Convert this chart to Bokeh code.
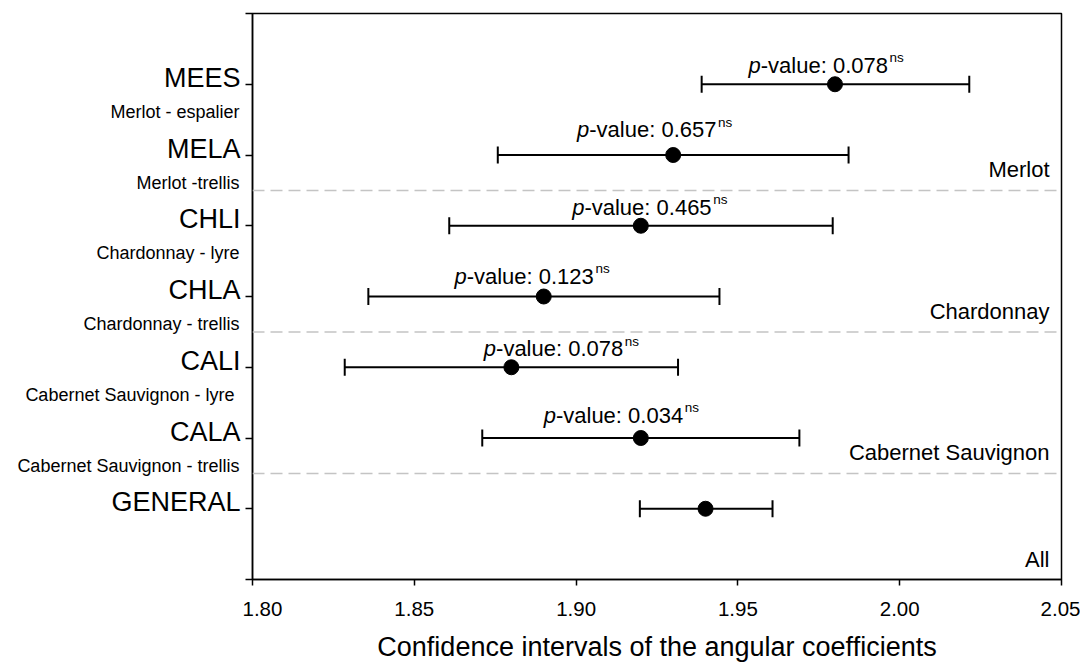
import numpy as np
from bokeh.plotting import figure
from bokeh.layouts import row
from bokeh.models import (ColumnDataSource, LabelSet, Span, FixedTicker,
                          NumeralTickFormatter, Range1d)
from bokeh.core.properties import value
from bokeh.embed import file_html
from bokeh.resources import INLINE

# ---------------- data ----------------
codes = ["MEES", "MELA", "CHLI", "CHLA", "CALI", "CALA", "GENERAL"]
descriptions = ["Merlot - espalier", "Merlot -trellis", "Chardonnay - lyre",
                "Chardonnay - trellis", "Cabernet Sauvignon -  lyre",
                "Cabernet Sauvignon - trellis", ""]
estimate = [1.980, 1.930, 1.920, 1.890, 1.880, 1.920, 1.940]
lower = [1.9388, 1.8758, 1.8608, 1.8358, 1.8285, 1.8710, 1.9197]
upper = [2.0215, 1.9842, 1.9793, 1.9443, 1.9315, 1.9690, 1.9607]
p_values = ["0.078", "0.657", "0.465", "0.123", "0.078", "0.034"]
# where each p-value annotation starts / sits (data units)
pval_text_x = [1.9533, 1.9003, 1.8988, 1.8624, 1.8715, 1.8900]
pval_text_y = [7.16, 6.25, 5.156, 4.18, 3.156, 2.21]
groups = ["Merlot", "Chardonnay", "Cabernet Sauvignon", "All"]
group_bottom = [5.5, 3.5, 1.5, 0.0]
x_ticks = [1.80, 1.85, 1.90, 1.95, 2.00, 2.05]
x_title = "Confidence intervals of the angular coefficients"

n = len(codes)
ypos = [n - i for i in range(n)]

FONT = value("Liberation Sans")
H = 664
TOP = 13
BOTTOM = 85

y_range = Range1d(0, n + 1)

# ---------------- main plot ----------------
p = figure(width=838, height=H, output_backend="svg", toolbar_location=None,
           x_range=Range1d(x_ticks[0], x_ticks[-1]), y_range=y_range,
           min_border_left=10, min_border_right=19, min_border_top=TOP,
           min_border_bottom=BOTTOM)
p.background_fill_color = "white"
p.border_fill_color = "white"
p.xgrid.visible = False
p.ygrid.visible = False
p.outline_line_color = "black"
p.outline_line_width = 1.5
p.outline_line_alpha = 1.0

# x axis
p.xaxis.ticker = FixedTicker(ticks=x_ticks)
p.xaxis.formatter = NumeralTickFormatter(format="0.00")
p.xaxis.axis_label = x_title
p.xaxis.axis_label_text_font = "Liberation Sans"
p.xaxis.axis_label_text_font_size = "27px"
p.xaxis.axis_label_text_font_style = "normal"
p.xaxis.axis_label_text_color = "black"
p.xaxis.axis_label_standoff = 13
p.xaxis.major_label_text_font = "Liberation Sans"
p.xaxis.major_label_text_font_size = "20.5px"
p.xaxis.major_label_text_color = "black"
p.xaxis.major_label_standoff = 16
p.xaxis.major_tick_out = 6
p.xaxis.major_tick_in = 0
p.xaxis.minor_tick_line_color = None
p.xaxis.axis_line_width = 1.5
p.xaxis.major_tick_line_width = 1.5
p.xaxis.axis_line_color = "black"
p.xaxis.major_tick_line_color = "black"

# y axis (ticks only, labels drawn in the left panel)
y_ticks = list(range(0, n + 2))
p.yaxis.ticker = FixedTicker(ticks=y_ticks)
p.yaxis.major_label_overrides = {t: "" for t in y_ticks}
p.yaxis.major_label_text_font_size = "0px"
p.yaxis.major_label_standoff = 0
p.yaxis.major_tick_out = 7
p.yaxis.major_tick_in = 0
p.yaxis.minor_tick_line_color = None
p.yaxis.axis_line_width = 1.5
p.yaxis.major_tick_line_width = 1.5
p.yaxis.axis_line_color = "black"
p.yaxis.major_tick_line_color = "black"

# group separators
for b in group_bottom:
    if b > 0:
        p.add_layout(Span(location=b, dimension="width", line_color="#c4c4c4",
                          line_width=1.5, line_dash="12 6"))

# error bars
src = ColumnDataSource(dict(y=ypos, est=estimate, lo=lower, hi=upper,
                            code=codes, desc=descriptions, lx=[1.0] * n))
p.segment(x0="lo", y0="y", x1="hi", y1="y", source=src, line_color="black",
          line_width=2)
p.scatter(x="lo", y="y", source=src, marker="dash", angle=np.pi / 2, size=17,
          line_color="black", line_width=2)
p.scatter(x="hi", y="y", source=src, marker="dash", angle=np.pi / 2, size=17,
          line_color="black", line_width=2)
p.scatter(x="est", y="y", source=src, marker="circle", size=15,
          fill_color="black", line_color="black")

# p-value annotations
m = len(p_values)
psrc = ColumnDataSource(dict(x=pval_text_x, y=pval_text_y,
                             p=["p"] * m,
                             rest=["-value: " + v for v in p_values],
                             ns=["ns"] * m))
p.add_layout(LabelSet(x="x", y="y", text="p", source=psrc, text_align="left",
                      text_baseline="alphabetic", text_font=FONT,
                      text_font_style="italic", text_font_size="22px",
                      text_color="black"))
p.add_layout(LabelSet(x="x", y="y", text="rest", source=psrc, x_offset=12.2,
                      text_align="left", text_baseline="alphabetic",
                      text_font=FONT, text_font_size="22px",
                      text_color="black"))
p.add_layout(LabelSet(x="x", y="y", text="ns", source=psrc, x_offset=141,
                      y_offset=10.7, text_align="left",
                      text_baseline="alphabetic", text_font=FONT,
                      text_font_size="13.5px", text_color="black"))

# group labels (right side)
gsrc = ColumnDataSource(dict(x=[x_ticks[-1]] * len(groups), y=group_bottom,
                             g=groups))
p.add_layout(LabelSet(x="x", y="y", text="g", source=gsrc, x_offset=-12,
                      y_offset=13, text_align="right",
                      text_baseline="alphabetic", text_font=FONT,
                      text_font_size="22px", text_color="black"))

# ---------------- left label panel ----------------
lp = figure(width=242, height=H, output_backend="svg", toolbar_location=None,
            x_range=Range1d(0, 1), y_range=y_range,
            x_axis_type=None, y_axis_type=None,
            min_border_left=0, min_border_right=0, min_border_top=TOP,
            min_border_bottom=BOTTOM)
lp.outline_line_color = None
lp.xgrid.visible = False
lp.ygrid.visible = False
lp.background_fill_color = "white"
lp.border_fill_color = "white"
lp.add_layout(LabelSet(x="lx", y="y", text="code", source=src, x_offset=-2,
                       y_offset=-2.5, text_align="right",
                       text_baseline="alphabetic", text_font=FONT,
                       text_font_size="27px", text_color="black"))
lp.add_layout(LabelSet(x="lx", y="y", text="desc", source=src, x_offset=-3,
                       y_offset=-33.5, text_align="right",
                       text_baseline="alphabetic", text_font=FONT,
                       text_font_size="18px", text_color="black"))

layout = row(lp, p)
open("out.html", "w").write(file_html(layout, INLINE))
